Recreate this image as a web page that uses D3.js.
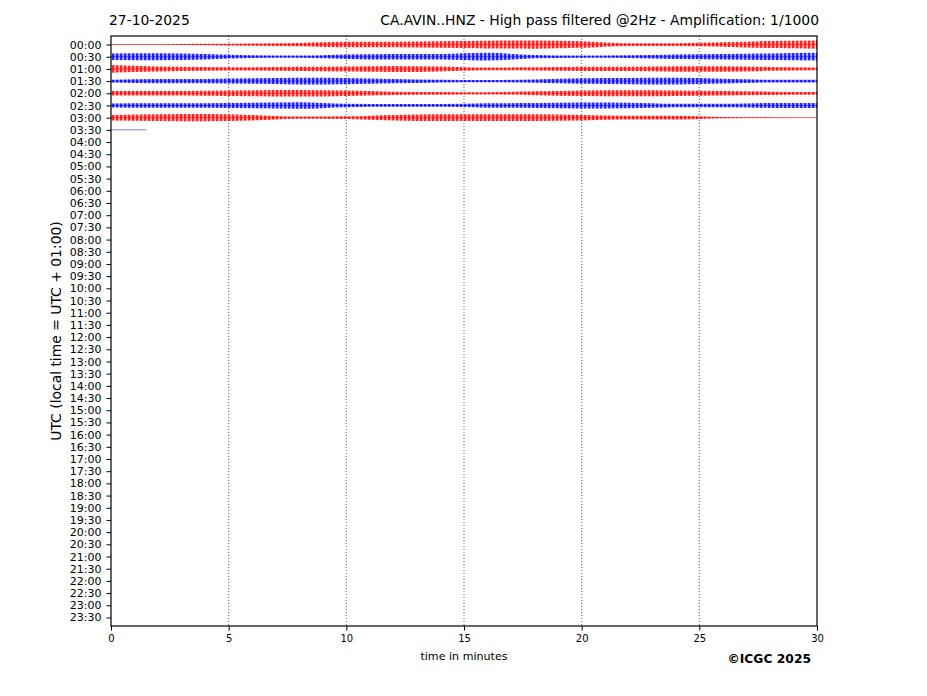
<!DOCTYPE html>
<html><head><meta charset="utf-8">
<script src="https://cdn.jsdelivr.net/npm/d3@7"></script>
<style>body{margin:0;background:#fff}svg{display:block}text{font-family:"DejaVu Sans",sans-serif}</style>
</head><body><div id="chart"></div>
<script>
const dateLabel = "27-10-2025";
const titleText = "CA.AVIN..HNZ - High pass filtered @2Hz - Amplification: 1/1000";
const yLabelText = "UTC (local time = UTC + 01:00)";
const xLabelText = "time in minutes";
const creditText = "\u00A9ICGC 2025";
const rowLabels = [];
for (let h = 0; h < 24; h++) { const hh = String(h).padStart(2, "0"); rowLabels.push(hh + ":00", hh + ":30"); }
const xTicks = [0, 5, 10, 15, 20, 25, 30];
// envelope sample times (minutes)
const envTimes = [0, 2, 4, 6, 8, 10, 12, 14, 16, 18, 20, 22, 24, 26, 28, 30];
// envelope amplitudes per half-hour row (arbitrary units)
const row0000 = [0.3, 0.6, 1.2, 2, 3, 5, 5, 6, 7, 7.5, 6, 2.5, 2.5, 4, 6.5, 7.5];
const row0030 = [6, 6.5, 5, 2.5, 2, 4, 5, 5, 7, 3, 2, 2.5, 4, 5, 6, 7];
const row0100 = [7, 4.5, 3.5, 3, 4, 4.5, 5.5, 4.5, 2.5, 3, 4, 4, 5, 5, 3.5, 2.5];
const row0130 = [2.5, 4, 4, 5, 6, 5.5, 4, 2.5, 2, 3, 5, 5.5, 6, 4.5, 2.5, 2.5];
const row0200 = [4, 4, 4.5, 5.5, 6, 5, 3, 2.5, 2, 3.5, 5, 5.5, 5, 4, 3, 2.5];
const row0230 = [3.5, 4, 4, 5, 6, 3, 2.5, 2.5, 4, 4.5, 5.5, 5, 3, 3, 4.5, 4.5];
const row0300 = [5, 6, 6.5, 5, 2, 2.5, 5, 6, 6, 6, 5, 3.5, 3.5, 1, 0.5, 0.3];
const row0330Times = [0, 1.5];
const row0330 = [0.2, 0.2];
const traces = [
  {row: 0, times: envTimes, amp: row0000, color: "#ff0000"},
  {row: 1, times: envTimes, amp: row0030, color: "#0000ff"},
  {row: 2, times: envTimes, amp: row0100, color: "#ff0000"},
  {row: 3, times: envTimes, amp: row0130, color: "#0000ff"},
  {row: 4, times: envTimes, amp: row0200, color: "#ff0000"},
  {row: 5, times: envTimes, amp: row0230, color: "#0000ff"},
  {row: 6, times: envTimes, amp: row0300, color: "#ff0000"},
  {row: 7, times: row0330Times, amp: row0330, color: "#0000ff"}
];

const W = 927, H = 696;
const L = 111, R = 817, T = 36, B = 626;
const svg = d3.select("#chart").append("svg").attr("width", W).attr("height", H);
const x = d3.scaleLinear().domain([0, 30]).range([L, R]);
const y = d3.scaleLinear().domain([-0.7, rowLabels.length - 0.3]).range([T, B]);
const a = d3.scaleLinear().domain([0, 8]).range([0, 4.4]);

const defs = svg.append("defs");
["#ff0000", "#0000ff"].forEach((c, i) => {
  const p = defs.append("pattern").attr("id", "bead" + i).attr("width", 4).attr("height", 20)
    .attr("patternUnits", "userSpaceOnUse");
  p.append("rect").attr("x", 0).attr("y", 0).attr("width", 2.5).attr("height", 20).attr("fill", c);
  p.append("rect").attr("x", 2.5).attr("y", 0).attr("width", 1.5).attr("height", 20).attr("fill", c).attr("opacity", 0.3);
});
defs.append("filter").attr("id", "soft").attr("x", "-5%").attr("y", "-50%").attr("width", "110%").attr("height", "200%")
  .append("feGaussianBlur").attr("stdDeviation", 0.45);

// grid
svg.append("g").selectAll("line").data(xTicks.filter(d => d > 0 && d < 30)).join("line")
  .attr("x1", d => x(d)).attr("x2", d => x(d)).attr("y1", T).attr("y2", B)
  .attr("stroke", "#333").attr("stroke-width", 0.8).attr("stroke-dasharray", "1,2");

// traces
const tg = svg.append("g");
traces.forEach(tr => {
  const pts = tr.times.map((t, i) => [t, tr.amp[i]]);
  const cy = y(tr.row);
  const pid = tr.color === "#ff0000" ? "bead0" : "bead1";
  if (tr.times.length > 2) {
    const area = d3.area().x(d => x(d[0])).y0(d => cy - a(d[1])).y1(d => cy + a(d[1])).curve(d3.curveMonotoneX);
    tg.append("path").attr("d", area(pts)).attr("fill", `url(#${pid})`).attr("opacity", 0.85).attr("filter", "url(#soft)");
  }
  tg.append("line").attr("x1", x(tr.times[0])).attr("x2", x(tr.times[tr.times.length - 1]))
    .attr("y1", cy).attr("y2", cy).attr("stroke", tr.color).attr("stroke-width", 0.9).attr("opacity", 0.6);
});

// axes
const yAxis = d3.axisLeft(y).tickValues(d3.range(rowLabels.length)).tickFormat(i => rowLabels[i]).tickSize(4.5).tickPadding(5);
const gy = svg.append("g").attr("transform", `translate(${L},0)`).call(yAxis);
gy.select(".domain").remove();
gy.selectAll("text").attr("font-size", 11).attr("fill", "#000").style("font-family", "DejaVu Sans");
gy.selectAll("line").attr("stroke", "#000");
const xAxis = d3.axisBottom(x).tickValues(xTicks).tickFormat(d3.format("d")).tickSize(4.5).tickPadding(4);
const gx = svg.append("g").attr("transform", `translate(0,${B})`).call(xAxis);
gx.select(".domain").remove();
gx.selectAll("text").attr("font-size", 10).attr("fill", "#000").style("font-family", "DejaVu Sans");
gx.selectAll("line").attr("stroke", "#000");

svg.append("rect").attr("x", L).attr("y", T).attr("width", R - L).attr("height", B - T)
  .attr("fill", "none").attr("stroke", "#000").attr("stroke-width", 1.2);

// texts
svg.append("text").attr("x", 109).attr("y", 25).attr("font-size", 13.9).text(dateLabel);
svg.append("text").attr("x", 819).attr("y", 25).attr("font-size", 13.9).attr("text-anchor", "end").text(titleText);
svg.append("text").attr("x", (L + R) / 2).attr("y", 660).attr("font-size", 11.1).attr("text-anchor", "middle").text(xLabelText);
svg.append("text").attr("transform", `translate(61,${(T + B) / 2}) rotate(-90)`).attr("font-size", 13.9)
  .attr("text-anchor", "middle").text(yLabelText);
svg.append("text").attr("x", 811).attr("y", 662.5).attr("font-size", 12.3).attr("font-weight", "bold")
  .attr("text-anchor", "end").text(creditText);
</script></body></html>
